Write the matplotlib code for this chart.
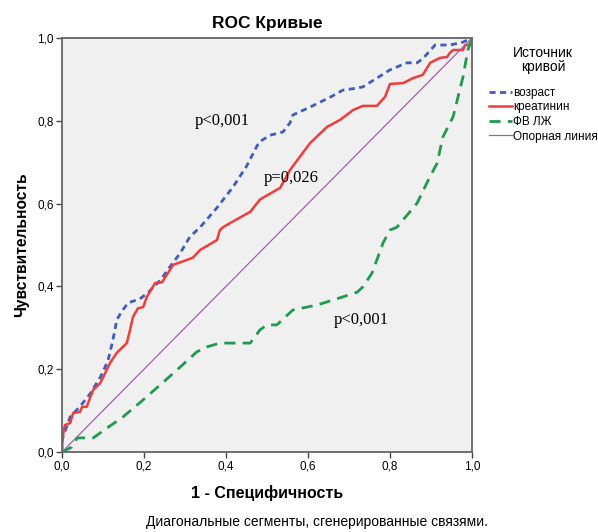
import matplotlib.pyplot as plt
from matplotlib.ticker import FuncFormatter

plt.rcParams['font.family'] = ['Liberation Sans', 'DejaVu Sans']

# возраст
age_x = [0, 0.0, 0.02, 0.044, 0.068, 0.093, 0.112, 0.124, 0.134, 0.146, 0.161, 0.19, 0.21,
         0.24, 0.263, 0.288, 0.312, 0.337, 0.378, 0.417, 0.45, 0.476, 0.483, 0.507, 0.539,
         0.556, 0.563, 0.605, 0.654, 0.685, 0.72, 0.734, 0.768, 0.8, 0.841, 0.866, 0.88,
         0.91, 0.946, 0.978, 1.0]
age_y = [0, 0.03, 0.085, 0.11, 0.14, 0.18, 0.22, 0.27, 0.32, 0.34, 0.36, 0.37, 0.385,
         0.415, 0.447, 0.48, 0.52, 0.543, 0.59, 0.64, 0.69, 0.74, 0.75, 0.765, 0.773,
         0.795, 0.814, 0.833, 0.857, 0.874, 0.879, 0.882, 0.903, 0.923, 0.94, 0.94, 0.95,
         0.983, 0.983, 0.99, 1.0]

# креатинин
crea_x = [0, 0.0, 0.003, 0.007, 0.02, 0.027, 0.044, 0.049, 0.06, 0.073, 0.076, 0.093, 0.105,
          0.117, 0.134, 0.158, 0.166, 0.173, 0.185, 0.198, 0.207, 0.227, 0.244, 0.271,
          0.305, 0.32, 0.337, 0.378, 0.385, 0.393, 0.41, 0.459, 0.483, 0.532, 0.556,
          0.605, 0.646, 0.678, 0.71, 0.734, 0.768, 0.788, 0.8, 0.832, 0.856, 0.88, 0.898,
          0.922, 0.939, 0.946, 0.954, 0.978, 0.983, 0.995, 1.0]
crea_y = [0, 0.01, 0.045, 0.065, 0.07, 0.094, 0.097, 0.109, 0.109, 0.142, 0.15, 0.166, 0.19,
          0.215, 0.24, 0.263, 0.295, 0.326, 0.347, 0.35, 0.375, 0.408, 0.41, 0.452,
          0.464, 0.47, 0.488, 0.512, 0.536, 0.543, 0.553, 0.58, 0.61, 0.638, 0.681,
          0.746, 0.785, 0.802, 0.826, 0.836, 0.836, 0.858, 0.889, 0.891, 0.903, 0.911, 0.94,
          0.952, 0.954, 0.964, 0.971, 0.971, 0.983, 0.983, 1.0]

# ФВ ЛЖ
ef_x = [0, 0.024, 0.037, 0.076, 0.11, 0.149, 0.198, 0.244, 0.288, 0.329, 0.354, 0.385, 0.459,
        0.483, 0.5, 0.524, 0.563, 0.622, 0.661, 0.72, 0.734, 0.756, 0.768, 0.783, 0.8,
        0.817, 0.866, 0.89, 0.915, 0.929, 0.954, 0.978, 0.99, 1.0]
ef_y = [0, 0.012, 0.034, 0.034, 0.058, 0.085, 0.126, 0.166, 0.205, 0.242, 0.254, 0.263, 0.263,
        0.295, 0.307, 0.307, 0.343, 0.355, 0.367, 0.386, 0.399, 0.432, 0.464, 0.505, 0.536,
        0.543, 0.601, 0.65, 0.698, 0.761, 0.81, 0.906, 0.971, 1.0]

ref_x = [0, 1]
ref_y = [0, 1]

labels = ['возраст', 'креатинин', 'ФВ ЛЖ', 'Опорная линия']
pvals = ['p<0,001', 'p=0,026', 'p<0,001']

fig = plt.figure(figsize=(5.98, 5.32), dpi=100)
ax = fig.add_axes([0.1037, 0.1504, 0.6856, 0.7782])
ax.set_facecolor('#f0f0f0')

ax.plot(age_x, age_y, color='#3f5cbf', lw=2, ls=(0, (2.2, 1.6)), label=labels[0])
ax.plot(crea_x, crea_y, color='#f23b3b', lw=1.8, label=labels[1])
ax.plot(ef_x, ef_y, color='#1f9a4f', lw=2, ls=(0, (4, 2.6)), label=labels[2])
ax.plot(ref_x, ref_y, color='#a060b0', lw=0.9, label=labels[3])

ax.set_xlim(0, 1)
ax.set_ylim(0, 1)
ticks = [0, 0.2, 0.4, 0.6, 0.8, 1.0]
ax.set_xticks(ticks)
ax.set_yticks(ticks)
fmt = FuncFormatter(lambda v, p: f'{v:.1f}'.replace('.', ','))
ax.xaxis.set_major_formatter(fmt)
ax.yaxis.set_major_formatter(fmt)
ax.tick_params(labelsize=8.5, length=4, width=1, color='#444444', pad=2)
for s in ax.spines.values():
    s.set_color('#666666')
    s.set_linewidth(1.3)

ax.set_title('ROC Кривые', fontsize=12.5, fontweight='bold', pad=7)
ax.set_xlabel('1 - Специфичность', fontsize=11.5, fontweight='bold', labelpad=9)
ax.set_ylabel('Чувствительность', fontsize=11.2, fontweight='bold', labelpad=6)

serif = dict(family='Liberation Serif', fontsize=12)
ax.text(0.39, 0.80, pvals[0], ha='center', va='center', **serif)
ax.text(0.559, 0.662, pvals[1], ha='center', va='center', **serif)
ax.text(0.729, 0.319, pvals[2], ha='center', va='center', **serif)

leg = ax.legend(loc='upper left', bbox_to_anchor=(0.817, 0.914),
                bbox_transform=fig.transFigure, frameon=False,
                title='Источник\nкривой', fontsize=8.5, title_fontsize=10,
                handlelength=1.95, handletextpad=0.15, labelspacing=0.22,
                borderpad=0, borderaxespad=0)
leg._legend_box.align = 'center'
leg._legend_box.sep = 9
leg.get_title().set_multialignment('center')
leg.get_title().set_linespacing(1.05)

fig.text(0.530, 0.012, 'Диагональные сегменты, сгенерированные связями.', ha='center',
         fontsize=10)

fig.savefig('out.png', dpi=100)
